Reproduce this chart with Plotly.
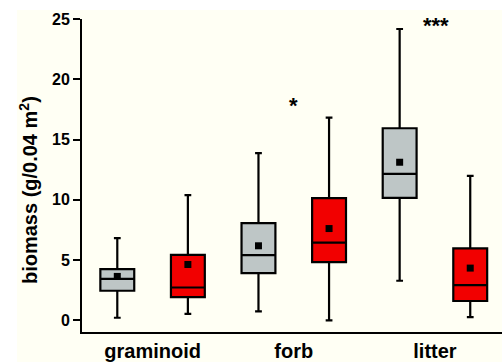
import plotly.graph_objects as go

categories = ["graminoid", "forb", "litter"]
groups = ["control", "treatment"]
positions = [0, 1, 2, 3, 4, 5]
box_colors = ["#bec6c6", "#f20000", "#bec6c6", "#f20000", "#bec6c6", "#f20000"]

lower = [0.22, 0.55, 0.75, 0.00, 3.29, 0.28]
q1 = [2.46, 1.94, 3.93, 4.84, 10.17, 1.61]
median = [3.45, 2.73, 5.42, 6.46, 12.15, 2.93]
q3 = [4.26, 5.44, 8.07, 10.14, 15.94, 5.97]
upper = [6.83, 10.39, 13.87, 16.82, 24.17, 11.99]
means = [3.65, 4.64, 6.19, 7.62, 13.12, 4.34]

cat_ticks = [0.5, 2.5, 4.5]
sig_labels = ["*", "***"]
sig_x = [2.49, 4.52]
sig_y = [17.85, 24.5]

y_ticks = [0, 5, 10, 15, 20, 25]

fig = go.Figure()
for i, p in enumerate(positions):
    fig.add_trace(go.Box(
        x=[p], q1=[q1[i]], median=[median[i]], q3=[q3[i]],
        lowerfence=[lower[i]], upperfence=[upper[i]],
        width=0.48, whiskerwidth=0.2, boxpoints=False,
        fillcolor=box_colors[i], line=dict(color="black", width=2.2),
        showlegend=False, hoverinfo="skip",
    ))

fig.add_trace(go.Scatter(
    x=positions, y=means, mode="markers",
    marker=dict(symbol="square", size=7, color="black"),
    showlegend=False, hoverinfo="skip",
))

for lab, sx, sy in zip(sig_labels, sig_x, sig_y):
    fig.add_annotation(x=sx, y=sy, text=lab, showarrow=False,
                       xanchor="center", yanchor="middle",
                       font=dict(family="Liberation Sans", size=22, color="black", weight="bold"))

fig.add_annotation(xref="paper", yref="paper", x=-0.126, y=0.4537,
                   text="biomass (g/0.04 m<sup>2</sup>)", textangle=-90,
                   showarrow=False, xanchor="center", yanchor="middle",
                   font=dict(family="Liberation Sans", size=20, color="black", weight="bold"))

cream = "#fffff4"
fig.add_shape(type="rect", xref="paper", yref="paper",
              x0=-0.1548, x1=1.0, y0=-0.1, y1=1.0288,
              fillcolor=cream, line=dict(width=0), layer="below")

fig.update_layout(
    width=502, height=362,
    margin=dict(l=82, r=0, t=19, b=30, autoexpand=False),
    paper_bgcolor="white", plot_bgcolor=cream,
    xaxis=dict(range=[-0.5, 5.45], tickvals=cat_ticks, ticktext=categories,
               showgrid=False, zeroline=False, showline=True, linecolor="black",
               linewidth=2, ticks="",
               tickfont=dict(family="Liberation Sans", size=20, color="black", weight="bold")),
    yaxis=dict(range=[-0.96, 25], tickvals=y_ticks, showgrid=False, zeroline=False,
               showline=True, linecolor="black", linewidth=2,
               ticks="outside", ticklen=7, tickwidth=2, tickcolor="black",
               tickfont=dict(family="Liberation Sans", size=16, color="black", weight="bold")),
)

fig.write_html("out.html", config={"displayModeBar": False},
               post_script="document.body.style.margin='0';document.body.style.overflow='hidden';")
